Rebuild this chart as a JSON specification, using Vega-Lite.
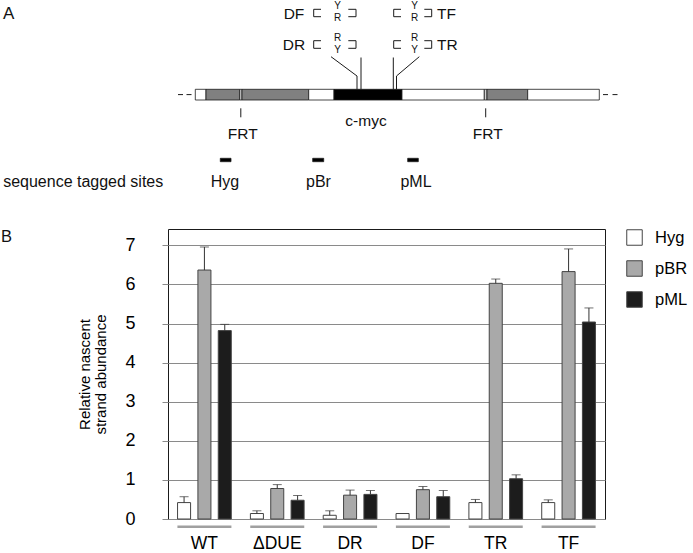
{
 "$schema": "https://vega.github.io/schema/vega-lite/v6.json",
 "background": "white",
 "padding": 0,
 "spacing": 0,
 "config": {"font": "Liberation Sans", "view": {"stroke": null}},
 "resolve": {"scale": {"x": "independent", "y": "independent", "fill": "independent"}},
 "datasets": {
  "bars": [
   {"group": "WT", "site": "Hyg", "value": 0.42, "err": 0.57},
   {"group": "WT", "site": "pBR", "value": 6.37, "err": 6.96},
   {"group": "WT", "site": "pML", "value": 4.82, "err": 4.98},
   {"group": "ΔDUE", "site": "Hyg", "value": 0.14, "err": 0.21},
   {"group": "ΔDUE", "site": "pBR", "value": 0.78, "err": 0.88},
   {"group": "ΔDUE", "site": "pML", "value": 0.48, "err": 0.60},
   {"group": "DR", "site": "Hyg", "value": 0.095, "err": 0.21},
   {"group": "DR", "site": "pBR", "value": 0.61, "err": 0.74},
   {"group": "DR", "site": "pML", "value": 0.63, "err": 0.73},
   {"group": "DF", "site": "Hyg", "value": 0.14, "err": 0.14},
   {"group": "DF", "site": "pBR", "value": 0.75, "err": 0.83},
   {"group": "DF", "site": "pML", "value": 0.57, "err": 0.73},
   {"group": "TR", "site": "Hyg", "value": 0.42, "err": 0.50},
   {"group": "TR", "site": "pBR", "value": 6.03, "err": 6.14},
   {"group": "TR", "site": "pML", "value": 1.03, "err": 1.13},
   {"group": "TF", "site": "Hyg", "value": 0.42, "err": 0.49},
   {"group": "TF", "site": "pBR", "value": 6.33, "err": 6.91},
   {"group": "TF", "site": "pML", "value": 5.04, "err": 5.40}
  ],
  "segs": [
   {"x": 194.3, "x2": 205, "y": 89.3, "y2": 100, "part": "vector"},
   {"x": 205, "x2": 238.7, "y": 89.3, "y2": 100, "part": "hph"},
   {"x": 238.7, "x2": 241, "y": 89.3, "y2": 100, "part": "FRT"},
   {"x": 241, "x2": 307.7, "y": 89.3, "y2": 100, "part": "hph"},
   {"x": 307.7, "x2": 333, "y": 89.3, "y2": 100, "part": "vector"},
   {"x": 333, "x2": 401, "y": 89.3, "y2": 100, "part": "myc"},
   {"x": 401, "x2": 483.3, "y": 89.3, "y2": 100, "part": "vector"},
   {"x": 483.3, "x2": 486, "y": 89.3, "y2": 100, "part": "FRT"},
   {"x": 486, "x2": 526.7, "y": 89.3, "y2": 100, "part": "hph"},
   {"x": 526.7, "x2": 598.3, "y": 89.3, "y2": 100, "part": "vector"},
   {"x": 219.3, "x2": 230, "y": 158.3, "y2": 161.7, "part": "sts"},
   {"x": 311.7, "x2": 322.7, "y": 158.3, "y2": 161.7, "part": "sts"},
   {"x": 406.7, "x2": 417.3, "y": 158.3, "y2": 161.7, "part": "sts"}
  ],
  "lines": [
   {"x": 330, "y": 56.7, "x2": 356, "y2": 76},
   {"x": 356, "y": 76, "x2": 356, "y2": 89.3},
   {"x": 360, "y": 57.5, "x2": 360, "y2": 89.3},
   {"x": 392.3, "y": 57.5, "x2": 392.3, "y2": 89.3},
   {"x": 418.3, "y": 56.7, "x2": 395.5, "y2": 76},
   {"x": 395.5, "y": 76, "x2": 395.5, "y2": 89.3},
   {"x": 177, "y": 94.6, "x2": 182, "y2": 94.6},
   {"x": 185.5, "y": 94.6, "x2": 190.5, "y2": 94.6},
   {"x": 602, "y": 94.6, "x2": 607, "y2": 94.6},
   {"x": 611.5, "y": 94.6, "x2": 616.5, "y2": 94.6},
   {"x": 239.8, "y": 108.3, "x2": 239.8, "y2": 117.3},
   {"x": 484.7, "y": 108.3, "x2": 484.7, "y2": 117.3},
   {"x": 312.7, "y": 9.3, "x2": 320, "y2": 9.3},
   {"x": 312.7, "y": 9.3, "x2": 312.7, "y2": 16.7},
   {"x": 312.7, "y": 16.7, "x2": 320, "y2": 16.7},
   {"x": 347.3, "y": 9.3, "x2": 355, "y2": 9.3},
   {"x": 355, "y": 9.3, "x2": 355, "y2": 16.7},
   {"x": 347.3, "y": 16.7, "x2": 355, "y2": 16.7},
   {"x": 392.7, "y": 9.3, "x2": 400, "y2": 9.3},
   {"x": 392.7, "y": 9.3, "x2": 392.7, "y2": 16.7},
   {"x": 392.7, "y": 16.7, "x2": 400, "y2": 16.7},
   {"x": 423.3, "y": 9.3, "x2": 430.7, "y2": 9.3},
   {"x": 430.7, "y": 9.3, "x2": 430.7, "y2": 16.7},
   {"x": 423.3, "y": 16.7, "x2": 430.7, "y2": 16.7},
   {"x": 312.7, "y": 40.7, "x2": 320, "y2": 40.7},
   {"x": 312.7, "y": 40.7, "x2": 312.7, "y2": 48.3},
   {"x": 312.7, "y": 48.3, "x2": 320, "y2": 48.3},
   {"x": 347.3, "y": 40.7, "x2": 355, "y2": 40.7},
   {"x": 355, "y": 40.7, "x2": 355, "y2": 48.3},
   {"x": 347.3, "y": 48.3, "x2": 355, "y2": 48.3},
   {"x": 392.7, "y": 40.7, "x2": 400, "y2": 40.7},
   {"x": 392.7, "y": 40.7, "x2": 392.7, "y2": 48.3},
   {"x": 392.7, "y": 48.3, "x2": 400, "y2": 48.3},
   {"x": 423.3, "y": 40.7, "x2": 430.7, "y2": 40.7},
   {"x": 430.7, "y": 40.7, "x2": 430.7, "y2": 48.3},
   {"x": 423.3, "y": 48.3, "x2": 430.7, "y2": 48.3}
  ],
  "labels": [
   {"x": 7.7, "y": 13.5, "t": "A", "k": "panel"},
   {"x": 293, "y": 13.5, "t": "DF", "k": "big"},
   {"x": 293, "y": 45, "t": "DR", "k": "big"},
   {"x": 445.5, "y": 13.5, "t": "TF", "k": "big"},
   {"x": 446.3, "y": 45, "t": "TR", "k": "big"},
   {"x": 336.5, "y": 6, "t": "Y", "k": "small"},
   {"x": 336.5, "y": 17.8, "t": "R", "k": "small"},
   {"x": 413.5, "y": 6, "t": "Y", "k": "small"},
   {"x": 413.5, "y": 17.8, "t": "R", "k": "small"},
   {"x": 336.5, "y": 38.3, "t": "R", "k": "small"},
   {"x": 336.5, "y": 50, "t": "Y", "k": "small"},
   {"x": 413.5, "y": 38.3, "t": "R", "k": "small"},
   {"x": 413.5, "y": 50, "t": "Y", "k": "small"},
   {"x": 241.7, "y": 133.5, "t": "FRT", "k": "big"},
   {"x": 486.7, "y": 133.5, "t": "FRT", "k": "big"},
   {"x": 365, "y": 120.5, "t": "c-myc", "k": "big"},
   {"x": 82.2, "y": 182, "t": "sequence tagged sites", "k": "sts"},
   {"x": 224, "y": 182, "t": "Hyg", "k": "sts"},
   {"x": 317.5, "y": 182, "t": "pBr", "k": "sts"},
   {"x": 415, "y": 182, "t": "pML", "k": "sts"}
  ],
  "panel": [{"t": "B"}]
 },
 "vconcat": [
  {
   "width": 437,
   "height": 228,
   "view": {"stroke": null},
   "encoding": {
    "x": {"field": "x", "type": "quantitative", "scale": {"domain": [167, 604], "nice": false, "zero": false}, "axis": null},
    "y": {"field": "y", "type": "quantitative", "scale": {"domain": [0, 228], "reverse": true, "nice": false, "zero": false}, "axis": null}
   },
   "layer": [
    {
     "data": {"name": "segs"},
     "mark": {"type": "rect", "stroke": "#1a1a1a", "strokeWidth": 0.8},
     "encoding": {
      "x2": {"field": "x2"},
      "y2": {"field": "y2"},
      "fill": {"field": "part", "type": "nominal", "scale": {"domain": ["vector", "hph", "FRT", "myc", "sts"], "range": ["#ffffff", "#808080", "#d0d0d0", "#000000", "#000000"]}, "legend": null}
     }
    },
    {
     "data": {"name": "lines"},
     "mark": {"type": "rule", "color": "#1a1a1a", "strokeWidth": 1},
     "encoding": {"x2": {"field": "x2"}, "y2": {"field": "y2"}}
    },
    {
     "data": {"name": "labels"},
     "transform": [{"filter": "datum.k === 'big'"}],
     "mark": {"type": "text", "fontSize": 15.5, "align": "center", "baseline": "middle", "color": "#111"},
     "encoding": {"text": {"field": "t"}}
    },
    {
     "data": {"name": "labels"},
     "transform": [{"filter": "datum.k === 'small'"}],
     "mark": {"type": "text", "fontSize": 10, "align": "center", "baseline": "middle", "color": "#111"},
     "encoding": {"text": {"field": "t"}}
    },
    {
     "data": {"name": "labels"},
     "transform": [{"filter": "datum.k === 'sts'"}],
     "mark": {"type": "text", "fontSize": 16, "align": "center", "baseline": "middle", "color": "#111"},
     "encoding": {"text": {"field": "t"}}
    },
    {
     "data": {"name": "labels"},
     "transform": [{"filter": "datum.k === 'panel'"}],
     "mark": {"type": "text", "fontSize": 17, "align": "center", "baseline": "middle", "color": "#111"},
     "encoding": {"text": {"field": "t"}}
    }
   ]
  },
  {
   "width": 437,
   "height": 290,
   "view": {"stroke": "#1a1a1a", "strokeWidth": 1},
   "resolve": {"scale": {"x": "independent", "y": "independent"}, "axis": {"x": "independent", "y": "independent"}},
   "layer": [
    {
     "data": {"name": "bars"},
     "encoding": {
      "x": {"field": "group", "type": "nominal", "sort": null,
        "scale": {"domain": ["WT", "ΔDUE", "DR", "DF", "TR", "TF"], "paddingInner": 0, "paddingOuter": 0},
        "axis": {"title": null, "domain": false, "ticks": false, "tickSize": 0, "labelAngle": 0, "labelFontSize": 17.5, "labelPadding": 15, "labelColor": "#000"}}
     },
     "layer": [
      {
       "mark": {"type": "bar", "stroke": "#444444", "strokeWidth": 1},
       "encoding": {
        "xOffset": {"field": "site", "type": "nominal", "scale": {"domain": ["Hyg", "pBR", "pML"], "paddingInner": 0.36, "paddingOuter": 0.47}},
        "y": {"field": "value", "type": "quantitative", "scale": {"domain": [0, 7.42], "nice": false, "zero": false},
          "axis": {"values": [0, 1, 2, 3, 4, 5, 6, 7], "format": "d", "grid": true, "gridColor": "#8a8a8a", "gridWidth": 1, "gridOpacity": 1, "domain": false, "ticks": true, "tickColor": "#8a8a8a", "tickSize": 6, "tickWidth": 1, "labelFontSize": 18, "labelPadding": 27, "labelColor": "#000",
            "title": ["Relative nascent", "strand abundance"], "titleFontSize": 15, "titleFontWeight": "normal", "titleColor": "#000", "titleLineHeight": 16, "titleAngle": 270, "titleAlign": "center", "titleBaseline": "middle", "titleX": -84, "titleY": 145}},
        "fill": {"field": "site", "type": "nominal", "scale": {"domain": ["Hyg", "pBR", "pML"], "range": ["#ffffff", "#a9a9a9", "#1c1c1c"]},
          "legend": {"title": null, "orient": "none", "legendX": 458, "legendY": 0, "padding": 0, "symbolType": "square", "symbolSize": 240, "symbolStrokeColor": "#444444", "symbolStrokeWidth": 1, "labelFontSize": 16.5, "labelColor": "#000", "labelOffset": 12, "rowPadding": 10}}
       }
      },
      {
       "transform": [{"filter": "datum.err > datum.value"}],
       "mark": {"type": "rule", "color": "#333333", "strokeWidth": 1},
       "encoding": {
        "xOffset": {"field": "site", "type": "nominal", "scale": {"domain": ["Hyg", "pBR", "pML"], "paddingInner": 0.36, "paddingOuter": 0.47}},
        "y": {"field": "value", "type": "quantitative", "scale": {"domain": [0, 7.42], "nice": false, "zero": false}},
        "y2": {"field": "err"}
       }
      },
      {
       "transform": [{"filter": "datum.err > datum.value"}],
       "mark": {"type": "tick", "orient": "horizontal", "color": "#333333", "thickness": 1, "size": 9},
       "encoding": {
        "xOffset": {"field": "site", "type": "nominal", "scale": {"domain": ["Hyg", "pBR", "pML"], "paddingInner": 0.36, "paddingOuter": 0.47}},
        "y": {"field": "err", "type": "quantitative", "scale": {"domain": [0, 7.42], "nice": false, "zero": false}}
       }
      },
      {
       "transform": [{"filter": "datum.site === 'pBR'"}],
       "mark": {"type": "tick", "orient": "horizontal", "color": "#777777", "thickness": 2.5, "size": 54},
       "encoding": {
        "y": {"datum": -0.2, "type": "quantitative", "scale": {"domain": [0, 7.42], "nice": false, "zero": false}}
       }
      }
     ]
    },
    {
     "data": {"name": "panel"},
     "mark": {"type": "text", "fontSize": 16.5, "align": "left", "baseline": "top", "color": "#111"},
     "encoding": {
      "x": {"datum": 0, "type": "quantitative", "scale": {"domain": [167, 604], "nice": false, "zero": false}, "axis": null},
      "y": {"datum": 7.42, "type": "quantitative", "scale": {"domain": [0, 7.42], "nice": false, "zero": false}, "axis": null},
      "text": {"field": "t"}
     }
    }
   ]
  }
 ]
}
